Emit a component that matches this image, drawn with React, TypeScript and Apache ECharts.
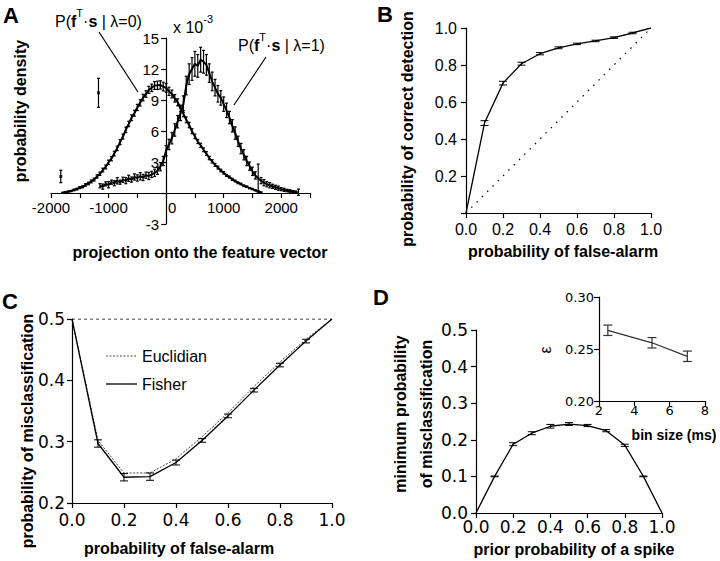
import React, { useEffect, useRef } from 'react';
import * as echarts from 'echarts';

const FONT = '"Liberation Sans", Arial, Helvetica, sans-serif';
const WIDE = '"DejaVu Sans", Verdana, sans-serif';

// ---------- Panel A: projection histograms (x 10^-3) ----------
const A0_START = -1800;
const A1_START = -1150;
const A_STEP = 50;
const a0Vals = [
  0.02, 0.08, 0.14, 0.19, 0.30, 0.38, 0.52, 0.60, 0.78, 0.92,
  1.12, 1.30, 1.60, 1.86, 2.22, 2.52, 2.98, 3.32, 3.82, 4.32,
  4.92, 5.46, 6.12, 6.68, 7.28, 7.72, 8.28, 8.72, 9.24, 9.58,
  9.98, 10.18, 10.40, 10.42, 10.46, 10.30, 10.18, 9.84, 9.58, 9.16,
  8.78, 8.18, 7.68, 7.08, 6.58, 5.98, 5.48, 4.98, 4.62, 4.18,
  3.82, 3.38, 3.06, 2.72, 2.46, 2.18, 1.96, 1.70, 1.54, 1.32,
  1.16, 0.98, 0.87, 0.70, 0.61, 0.47, 0.38, 0.26, 0.16, 0.06,
];
const a0Err = [
  0.05, 0.05, 0.06, 0.06, 0.08, 0.08, 0.1, 0.1, 0.12, 0.12,
  0.14, 0.14, 0.16, 0.16, 0.18, 0.18, 0.2, 0.2, 0.22, 0.22,
  0.24, 0.24, 0.26, 0.26, 0.28, 0.28, 0.3, 0.3, 0.32, 0.32,
  0.34, 0.36, 0.38, 0.4, 0.4, 0.42, 0.42, 0.4, 0.38, 0.36,
  0.34, 0.32, 0.3, 0.28, 0.26, 0.24, 0.22, 0.2, 0.2, 0.18,
  0.18, 0.16, 0.16, 0.14, 0.14, 0.12, 0.12, 0.1, 0.1, 0.1,
  0.08, 0.08, 0.08, 0.07, 0.07, 0.06, 0.06, 0.05, 0.05, 0.05,
];
const a1Vals = [
  0.70, 0.62, 0.88, 0.80, 1.05, 0.95, 1.18, 1.05, 1.28, 1.20,
  1.42, 1.30, 1.55, 1.45, 1.62, 1.50, 1.72, 1.65, 1.80, 1.95,
  2.15, 2.55, 3.10, 4.10, 4.70, 5.30, 6.10, 6.90, 7.70, 8.60,
  10.40, 11.50, 12.00, 12.50, 12.30, 12.90, 12.70, 12.40, 11.60, 10.80,
  10.20, 9.60, 9.20, 8.60, 8.00, 7.30, 6.50, 5.80, 5.00, 4.30,
  3.70, 3.10, 2.60, 2.10, 1.70, 1.40, 1.20, 1.00, 0.85, 0.75,
  0.65, 0.55, 0.47, 0.38, 0.30, 0.24, 0.19, 0.14, 0.10, 0.08,
];
const a1Err = [
  0.2, 0.25, 0.2, 0.3, 0.2, 0.25, 0.3, 0.2, 0.25, 0.3,
  0.3, 0.25, 0.3, 0.3, 0.35, 0.3, 0.3, 0.35, 0.3, 0.35,
  0.35, 0.4, 0.45, 0.5, 0.5, 0.55, 0.6, 0.6, 0.7, 0.8,
  0.9, 1.0, 1.1, 1.2, 1.1, 1.2, 1.1, 1.0, 0.9, 0.9,
  0.8, 0.8, 0.7, 0.7, 0.7, 0.6, 0.6, 0.6, 0.5, 0.5,
  0.5, 0.45, 0.4, 0.4, 0.35, 1.4, 0.3, 0.3, 0.25, 0.25,
  0.2, 0.2, 0.2, 0.15, 0.15, 0.12, 0.12, 0.1, 0.1, 0.3,
];
const aLoneX = [-1830, -1175];
const aLoneY = [1.6, 9.7];
const aLoneErr = [0.6, 1.4];
const A_X_RANGE = [-2000, 2500];
const A_Y_RANGE = [-3, 15];

// ---------- Panel B: ROC ----------
const probX = [0, 0.1, 0.2, 0.3, 0.4, 0.5, 0.6, 0.7, 0.8, 0.9, 1.0];
const rocY = [0, 0.486, 0.702, 0.807, 0.861, 0.893, 0.914, 0.930, 0.948, 0.973, 1.0];
const rocErr = [0, 0.013, 0.01, 0.008, 0.006, 0.005, 0.004, 0.004, 0.004, 0.004, 0];
const chanceX = [0, 1];
const chanceY = [0, 1];

// ---------- Panel C: misclassification vs false alarm ----------
const fisherY = [0.5, 0.297, 0.242, 0.243, 0.266, 0.302, 0.342, 0.384, 0.425, 0.464, 0.5];
const fisherErr = [0, 0.006, 0.006, 0.006, 0.004, 0.003, 0.003, 0.003, 0.003, 0.003, 0];
const euclidY = [0.5, 0.302, 0.249, 0.249, 0.272, 0.308, 0.347, 0.390, 0.430, 0.467, 0.5];
const chanceLevelX = [0, 1];
const chanceLevelY = [0.5, 0.5];
const legendNames = ['Euclidian', 'Fisher'];

// ---------- Panel D: minimum misclassification vs prior ----------
const minErrY = [0, 0.1, 0.188, 0.218, 0.237, 0.243, 0.239, 0.225, 0.185, 0.1, 0];
const minErrErr = [0, 0.001, 0.004, 0.004, 0.005, 0.004, 0.003, 0.003, 0.003, 0.001, 0];
// inset
const binSize = [2.5, 5, 7];
const epsY = [0.268, 0.256, 0.243];
const epsErr = [0.005, 0.005, 0.005];

const pairs = (xs: number[], ys: number[]) => xs.map((x, i) => [x, ys[i]]);
const gridX = (start: number, n: number) => Array.from({ length: n }, (_, i) => start + i * A_STEP);

function errSeries(xAxisIndex: number, yAxisIndex: number, xs: number[], ys: number[], es: number[], cap: number, color = '#000', width = 1) {
  const data = xs.map((x, i) => [x, ys[i] - es[i], ys[i] + es[i]]).filter((_, i) => es[i] > 0);
  return {
    type: 'custom',
    xAxisIndex,
    yAxisIndex,
    data,
    encode: { x: 0, y: [1, 2] },
    silent: true,
    z: 3,
    renderItem: (_p: any, api: any) => {
      const lo = api.coord([api.value(0), api.value(1)]);
      const hi = api.coord([api.value(0), api.value(2)]);
      const st = { stroke: color, lineWidth: width };
      return {
        type: 'group',
        children: [
          { type: 'line', shape: { x1: lo[0], y1: lo[1], x2: hi[0], y2: hi[1] }, style: st },
          { type: 'line', shape: { x1: lo[0] - cap, y1: lo[1], x2: lo[0] + cap, y2: lo[1] }, style: st },
          { type: 'line', shape: { x1: hi[0] - cap, y1: hi[1], x2: hi[0] + cap, y2: hi[1] }, style: st },
        ],
      };
    },
  };
}

function valAxis(gridIndex: number, min: number, max: number, interval: number, fmt: any, fontSize = 16, margin = 8, extra: any = {}) {
  return {
    type: 'value',
    gridIndex,
    min,
    max,
    interval,
    axisLine: { show: true, onZero: false, lineStyle: { color: '#000', width: 1.2 } },
    axisTick: { show: true, length: 5, lineStyle: { color: '#000', width: 1.2 } },
    splitLine: { show: false },
    axisLabel: { color: '#000', fontSize, fontFamily: extra.font || FONT, margin, formatter: fmt, rich: extra.rich },
    offset: extra.offset || 0,
  };
}

function txt(x: number, y: number, text: string, opts: any = {}) {
  const { size = 16, weight = 'normal', rot = 0, align = 'center', rich } = opts;
  return {
    type: 'text',
    x,
    y,
    rotation: rot,
    silent: true,
    style: {
      text,
      fill: '#000',
      fontSize: size,
      fontWeight: weight,
      fontFamily: FONT,
      align,
      verticalAlign: 'middle',
      textAlign: align,
      textVerticalAlign: 'middle',
      rich,
    },
  };
}

const supRich = {
  n: { fontSize: 16, fontFamily: FONT, lineHeight: 22, verticalAlign: 'bottom' },
  b: { fontSize: 16, fontFamily: FONT, fontWeight: 'bold', lineHeight: 22, verticalAlign: 'bottom' },
  s: { fontSize: 11, fontFamily: FONT, lineHeight: 11, verticalAlign: 'top' },
};

function buildOption() {
  const a0X = gridX(A0_START, a0Vals.length);
  const a1X = gridX(A1_START, a1Vals.length);
  const f1 = (v: number) => v.toFixed(1);
  const lineBlack = { color: '#000', width: 1.3 };
  const wide = { font: WIDE };

  const gA = { left: 51, top: 38, width: 259, height: 186 };
  // place panel A axes through the origin (0, 0)
  const yAxisOffsetA = -((0 - A_X_RANGE[0]) / (A_X_RANGE[1] - A_X_RANGE[0])) * gA.width;
  const xAxisOffsetA = -((0 - A_Y_RANGE[0]) / (A_Y_RANGE[1] - A_Y_RANGE[0])) * gA.height;

  return {
    animation: false,
    backgroundColor: '#fff',
    grid: [
      gA,
      { left: 466, top: 28, width: 185, height: 185 },
      { left: 72, top: 319, width: 260, height: 184 },
      { left: 476, top: 330, width: 186, height: 183 },
      { left: 599, top: 297, width: 106, height: 104 },
    ],
    xAxis: [
      valAxis(0, A_X_RANGE[0], A_X_RANGE[1], 500, (v: number) => (v % 1000 === 0 ? (v === 0 ? '{z|0}' : String(v)) : ''), 15, 7,
        { offset: xAxisOffsetA, rich: { z: { fontSize: 15, fontFamily: FONT, color: '#000', padding: [0, 0, 0, 12] } } }),
      valAxis(1, 0, 1, 0.2, f1, 16, 8),
      valAxis(2, 0, 1, 0.2, f1, 17, 8, wide),
      valAxis(3, 0, 1, 0.2, f1, 17, 5, wide),
      valAxis(4, 2, 8, 2, (v: number) => String(v), 13, 3, wide),
    ],
    yAxis: [
      valAxis(0, A_Y_RANGE[0], A_Y_RANGE[1], 3, (v: number) => (v === 0 ? '' : String(v)), 15, 7, { offset: yAxisOffsetA }),
      valAxis(1, 0, 1, 0.2, (v: number) => (v === 0 ? '' : v.toFixed(1)), 16, 9),
      valAxis(2, 0.2, 0.5, 0.1, f1, 17, 7, wide),
      valAxis(3, 0, 0.5, 0.1, f1, 17, 8, wide),
      valAxis(4, 0.2, 0.3, 0.05, (v: number) => v.toFixed(2), 13, 5, wide),
    ],
    series: [
      // A
      { type: 'line', name: 'lambda0', xAxisIndex: 0, yAxisIndex: 0, data: pairs(a0X, a0Vals), symbol: 'none', lineStyle: { color: '#000', width: 2 }, z: 2 },
      { type: 'line', name: 'lambda1', xAxisIndex: 0, yAxisIndex: 0, data: pairs(a1X, a1Vals), symbol: 'none', lineStyle: { color: '#000', width: 2 }, z: 2 },
      errSeries(0, 0, a0X, a0Vals, a0Err, 1.5, '#000', 1.2),
      errSeries(0, 0, a1X, a1Vals, a1Err, 1.5, '#000', 1.2),
      errSeries(0, 0, aLoneX, aLoneY, aLoneErr, 1.5, '#000', 1.2),
      { type: 'scatter', name: 'lone', xAxisIndex: 0, yAxisIndex: 0, data: pairs(aLoneX, aLoneY), symbol: 'rect', symbolSize: 3, itemStyle: { color: '#000' } },
      // B
      { type: 'line', name: 'roc', xAxisIndex: 1, yAxisIndex: 1, data: pairs(probX, rocY), symbol: 'none', lineStyle: lineBlack, z: 2 },
      { type: 'line', name: 'chance', xAxisIndex: 1, yAxisIndex: 1, data: pairs(chanceX, chanceY), symbol: 'none', lineStyle: { color: '#000', width: 1.2, type: [1.5, 6] }, z: 2 },
      errSeries(1, 1, probX, rocY, rocErr, 4),
      // C
      { type: 'line', name: legendNames[0], xAxisIndex: 2, yAxisIndex: 2, data: pairs(probX, euclidY), symbol: 'none', lineStyle: { color: '#444', width: 1, type: [2, 1.5] }, z: 2 },
      { type: 'line', name: legendNames[1], xAxisIndex: 2, yAxisIndex: 2, data: pairs(probX, fisherY), symbol: 'none', lineStyle: lineBlack, z: 2 },
      { type: 'line', name: 'level', xAxisIndex: 2, yAxisIndex: 2, data: pairs(chanceLevelX, chanceLevelY), symbol: 'none', lineStyle: { color: '#000', width: 1, type: [3, 3] }, z: 1 },
      errSeries(2, 2, probX, fisherY, fisherErr, 4),
      // D
      { type: 'line', name: 'minErr', xAxisIndex: 3, yAxisIndex: 3, data: pairs(probX, minErrY), symbol: 'none', lineStyle: lineBlack, z: 2 },
      errSeries(3, 3, probX, minErrY, minErrErr, 4),
      { type: 'line', name: 'eps', xAxisIndex: 4, yAxisIndex: 4, data: pairs(binSize, epsY), symbol: 'none', lineStyle: { color: '#333', width: 1.3 }, z: 2 },
      errSeries(4, 4, binSize, epsY, epsErr, 4.5, '#333', 1.2),
    ],
    graphic: [
      txt(11, 15, 'A', { size: 22, weight: 'bold' }),
      txt(385, 14, 'B', { size: 22, weight: 'bold' }),
      txt(10, 301, 'C', { size: 22, weight: 'bold' }),
      txt(381, 297, 'D', { size: 22, weight: 'bold' }),
      // panel A annotations
      txt(55, 18, '{n|P(}{b|f}{s|T}{n|·}{b|s}{n| | λ=0)}', { align: 'left', rich: supRich }),
      txt(238, 42, '{n|P(}{b|f}{s|T}{n|·}{b|s}{n| | λ=1)}', { align: 'left', rich: supRich }),
      txt(173, 24, '{n|x 10}{s|-3}', { align: 'left', rich: supRich }),
      { type: 'line', silent: true, shape: { x1: 99, y1: 32, x2: 138, y2: 92 }, style: { stroke: '#000', lineWidth: 1.2 } },
      { type: 'line', silent: true, shape: { x1: 266, y1: 57, x2: 234, y2: 105 }, style: { stroke: '#000', lineWidth: 1.2 } },
      // panel C legend
      { type: 'line', silent: true, shape: { x1: 106, y1: 356, x2: 137, y2: 356 }, style: { stroke: '#444', lineWidth: 1, lineDash: [2, 1.5] } },
      txt(142, 356, legendNames[0], { align: 'left' }),
      { type: 'line', silent: true, shape: { x1: 106, y1: 384, x2: 137, y2: 384 }, style: { stroke: '#000', lineWidth: 1.3 } },
      txt(142, 384, legendNames[1], { align: 'left' }),
      // axis titles
      txt(20, 111, 'probability density', { weight: 'bold', rot: Math.PI / 2 }),
      txt(200, 252, 'projection onto the feature vector', { weight: 'bold' }),
      txt(407, 129, 'probability of correct detection', { weight: 'bold', rot: Math.PI / 2 }),
      txt(563, 251, 'probability of false-alarm', { weight: 'bold' }),
      txt(27, 431, 'probability of misclassification', { weight: 'bold', rot: Math.PI / 2 }),
      txt(179, 548, 'probability of false-alarm', { weight: 'bold' }),
      txt(400, 414, 'minimum probability', { weight: 'bold', rot: Math.PI / 2 }),
      txt(426, 414, 'of misclassification', { weight: 'bold', rot: Math.PI / 2 }),
      txt(574, 549, 'prior probability of a spike', { weight: 'bold' }),
      txt(545, 350, 'ε', { size: 16, rot: Math.PI / 2 }),
      txt(674, 435, 'bin size (ms)', { size: 14, weight: 'bold' }),
    ],
  };
}

export default function App() {
  const ref = useRef<HTMLDivElement>(null);
  useEffect(() => {
    if (!ref.current) return;
    const chart = echarts.init(ref.current, null, { renderer: 'svg' });
    chart.setOption(buildOption() as any);
    return () => chart.dispose();
  }, []);
  return (
    <div
      ref={ref}
      style={{ position: 'absolute', left: 0, top: 0, width: 720, height: 561, background: '#fff' }}
    />
  );
}
